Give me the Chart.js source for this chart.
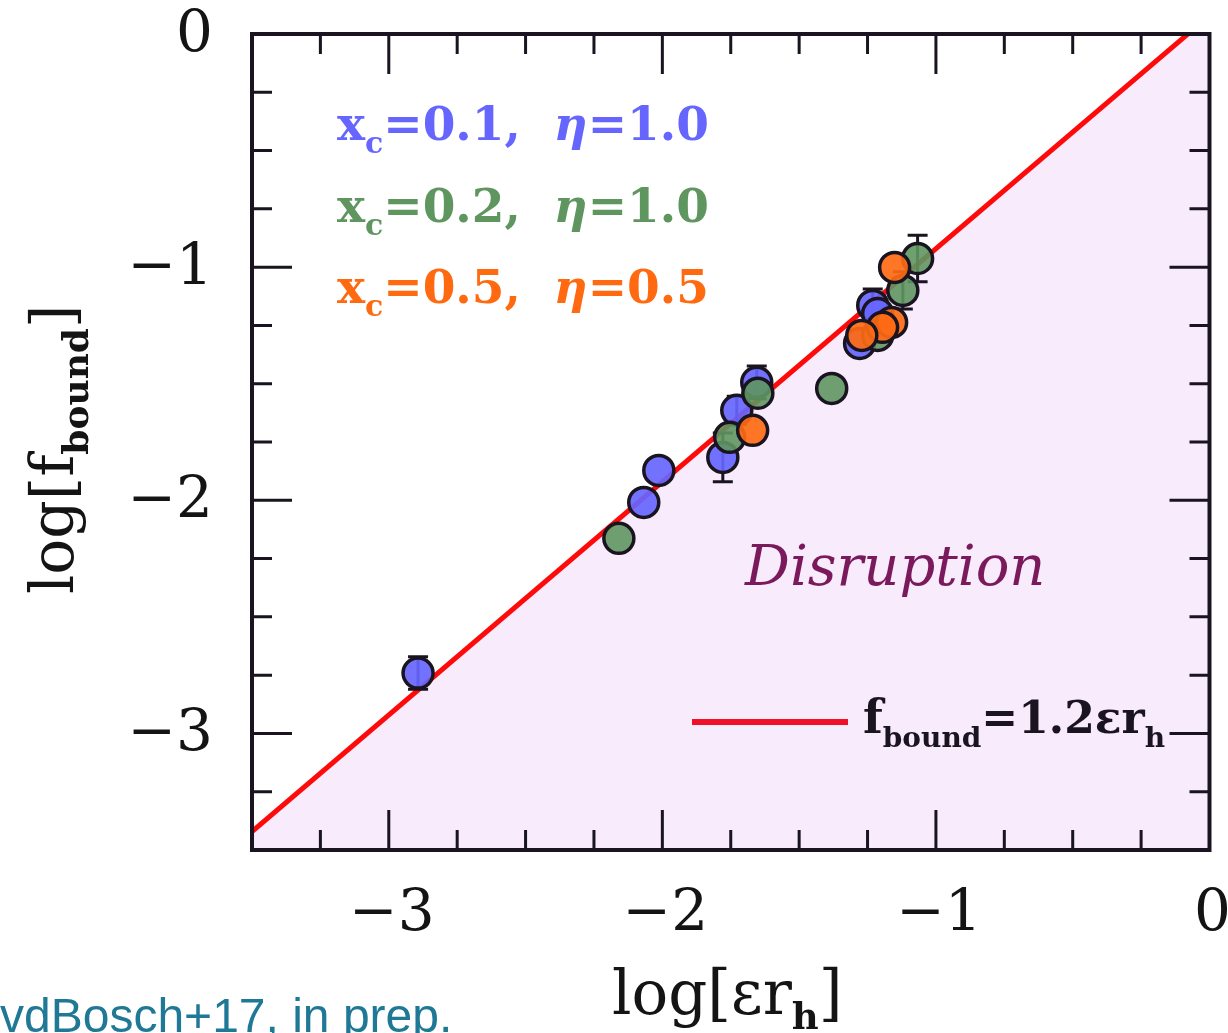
<!DOCTYPE html>
<html>
<head>
<meta charset="utf-8">
<script src="https://cdn.jsdelivr.net/npm/chart.js@4/dist/chart.umd.min.js"></script>
<style>
html, body { margin: 0; padding: 0; background: #fff; }
canvas { display: block; }
</style>
</head>
<body>
<canvas id="boundChart" width="1228" height="1033"></canvas>
<script>
// log[eps r_h] vs log[f_bound] for the three run sets
const blueX = [-2.893, -2.068, -2.013, -1.779, -1.728, -1.655, -1.231, -1.213, -1.279];
const blueY = [-2.741, -2.009, -1.872, -1.816, -1.614, -1.494, -1.164, -1.199, -1.327];
const blueErr = [0.07, 0, 0, 0.105, 0.06, 0.07, 0.07, 0, 0];

const greenX = [-2.159, -1.754, -1.651, -1.381, -1.067, -1.121, -1.213];
const greenY = [-2.163, -1.730, -1.541, -1.520, -0.963, -1.100, -1.293];
const greenErr = [0, 0, 0, 0, 0.10, 0.08, 0];

const orangeX = [-1.670, -1.151, -1.162, -1.195, -1.271];
const orangeY = [-1.700, -1.001, -1.237, -1.258, -1.293];
const orangeErr = [0, 0, 0, 0, 0];

// f_bound = 1.2 eps r_h
const fitNorm = 1.2;
const fitX = [-3.5, 0];

const xTickValues = [-3, -2, -1, 0];
const xTickLabels = ["\u22123", "\u22122", "\u22121", "0"];
const yTickValues = [0, -1, -2, -3];
const yTickLabels = ["0", "\u22121", "\u22122", "\u22123"];

const ink = "#1a1420";
const serif = '"DejaVu Serif", serif';

function toPoints(xs, ys) {
    return xs.map((x, i) => ({ x: x, y: ys[i] }));
}

// draws a run of text pieces (subscripts etc.) left to right
function drawRun(ctx, parts, x, y) {
    let cx = x;
    parts.forEach((p) => {
        ctx.font = p.font;
        ctx.fillText(p.text, cx, y + (p.dy || 0));
        cx += ctx.measureText(p.text).width + (p.gap || 0);
    });
}

const errorBars = {
    id: "errorBars",
    beforeDatasetDraw(chart, args) {
        const ds = chart.data.datasets[args.index];
        if (!ds.errors) return;
        const ctx = chart.ctx;
        const xs = chart.scales.x;
        const ys = chart.scales.y;
        ctx.save();
        ctx.strokeStyle = ink;
        ctx.lineWidth = 3;
        ds.data.forEach((pt, i) => {
            const e = ds.errors[i];
            if (!e) return;
            const px = xs.getPixelForValue(pt.x);
            const top = ys.getPixelForValue(pt.y + e);
            const bot = ys.getPixelForValue(pt.y - e);
            ctx.beginPath();
            ctx.moveTo(px, top);
            ctx.lineTo(px, bot);
            ctx.moveTo(px - 10, top);
            ctx.lineTo(px + 10, top);
            ctx.moveTo(px - 10, bot);
            ctx.lineTo(px + 10, bot);
            ctx.stroke();
        });
        ctx.restore();
    },
};

const frameAndText = {
    id: "frameAndText",
    afterDraw(chart) {
        const ctx = chart.ctx;
        const area = chart.chartArea;
        const xs = chart.scales.x;
        const ys = chart.scales.y;
        ctx.save();

        // box with inward ticks on all sides
        ctx.strokeStyle = ink;
        ctx.lineWidth = 4;
        ctx.strokeRect(area.left, area.top, area.right - area.left, area.bottom - area.top);
        ctx.lineWidth = 3;
        ctx.beginPath();
        for (let v = -3.5; v <= 0.001; v += 0.25) {
            const major = Math.abs(v - Math.round(v)) < 0.001;
            const len = major ? 40 : 20;
            const px = xs.getPixelForValue(v);
            const py = ys.getPixelForValue(v);
            ctx.moveTo(px, area.bottom);
            ctx.lineTo(px, area.bottom - len);
            ctx.moveTo(px, area.top);
            ctx.lineTo(px, area.top + len);
            ctx.moveTo(area.left, py);
            ctx.lineTo(area.left + len, py);
            ctx.moveTo(area.right, py);
            ctx.lineTo(area.right - len, py);
        }
        ctx.stroke();

        // tick labels
        ctx.fillStyle = "#141414";
        ctx.font = "58px " + serif;
        ctx.textAlign = "center";
        ctx.textBaseline = "alphabetic";
        xTickValues.forEach((v, i) => {
            ctx.fillText(xTickLabels[i], xs.getPixelForValue(v) + 3, 930);
        });
        ctx.textAlign = "right";
        ctx.textBaseline = "middle";
        yTickValues.forEach((v, i) => {
            ctx.fillText(yTickLabels[i], 213, ys.getPixelForValue(v) + 2);
        });

        // axis titles
        ctx.textAlign = "left";
        ctx.textBaseline = "alphabetic";
        drawRun(ctx, [
            { text: "log[\u03b5r", font: "61px " + serif },
            { text: "h", font: "bold 37px " + serif, dy: 15 },
            { text: "]", font: "61px " + serif },
        ], 612, 1014);

        ctx.save();
        ctx.translate(73, 594);
        ctx.rotate(-Math.PI / 2);
        drawRun(ctx, [
            { text: "log[f", font: "60px " + serif },
            { text: "bound", font: "bold 36px " + serif, dy: 15 },
            { text: "]", font: "60px " + serif },
        ], 0, 0);
        ctx.restore();

        // run-set key
        const rows = [
            { color: "#6666ff", xc: "0.1", eta: "1.0", y: 140 },
            { color: "#5f9660", xc: "0.2", eta: "1.0", y: 222 },
            { color: "#ff6a10", xc: "0.5", eta: "0.5", y: 303 },
        ];
        rows.forEach((r) => {
            ctx.fillStyle = r.color;
            drawRun(ctx, [
                { text: "x", font: "bold 47px " + serif },
                { text: "c", font: "bold 30px " + serif, dy: 13 },
                { text: "=" + r.xc + ",  ", font: "bold 47px " + serif },
                { text: "\u03b7", font: "bold italic 47px " + serif },
                { text: "=" + r.eta, font: "bold 47px " + serif },
            ], 337, r.y);
        });

        // fit key
        ctx.strokeStyle = "#f01028";
        ctx.lineWidth = 6;
        ctx.beginPath();
        ctx.moveTo(692, 722);
        ctx.lineTo(848, 722);
        ctx.stroke();
        ctx.fillStyle = ink;
        drawRun(ctx, [
            { text: "f", font: "bold 46px " + serif },
            { text: "bound", font: "bold 28px " + serif, dy: 14 },
            { text: "=1.2\u03b5r", font: "bold 44px " + serif },
            { text: "h", font: "bold 28px " + serif, dy: 14 },
        ], 863, 733);

        ctx.fillStyle = "#7a1a5c";
        ctx.font = "italic 56px " + serif;
        ctx.fillText("Disruption", 745, 585);

        ctx.fillStyle = "#1f7896";
        ctx.font = '48px "Liberation Sans", Arial, sans-serif';
        ctx.fillText("vdBosch+17, in prep.", 0, 1032);

        ctx.restore();
    },
};

function pointSet(label, xs, ys, errs, fill, order) {
    return {
        label: label,
        data: toPoints(xs, ys),
        errors: errs,
        backgroundColor: fill,
        borderColor: ink,
        borderWidth: 3.5,
        pointRadius: 15,
        pointHoverRadius: 15,
        order: order,
    };
}

new Chart(document.getElementById("boundChart"), {
    type: "scatter",
    data: {
        datasets: [
            {
                type: "line",
                label: "fit",
                data: toPoints(fitX, fitX.map((x) => x + Math.log10(fitNorm))),
                borderColor: "#ff0a0a",
                borderWidth: 5,
                pointRadius: 0,
                fill: "start",
                backgroundColor: "#f7ebfc",
                order: 10,
            },
            pointSet("x_c=0.1", blueX, blueY, blueErr, "rgba(102,102,255,0.92)", 2),
            pointSet("x_c=0.2", greenX, greenY, greenErr, "rgba(95,150,96,0.9)", 1),
            pointSet("x_c=0.5", orangeX, orangeY, orangeErr, "rgba(255,106,20,0.92)", 0),
        ],
    },
    options: {
        responsive: false,
        animation: false,
        events: [],
        layout: { padding: { left: 252, top: 34, right: 18, bottom: 183 } },
        plugins: { legend: { display: false }, tooltip: { enabled: false } },
        scales: {
            x: { type: "linear", min: -3.5, max: 0, display: false },
            y: { type: "linear", min: -3.5, max: 0, display: false },
        },
    },
    plugins: [errorBars, frameAndText],
});
</script>
</body>
</html>
